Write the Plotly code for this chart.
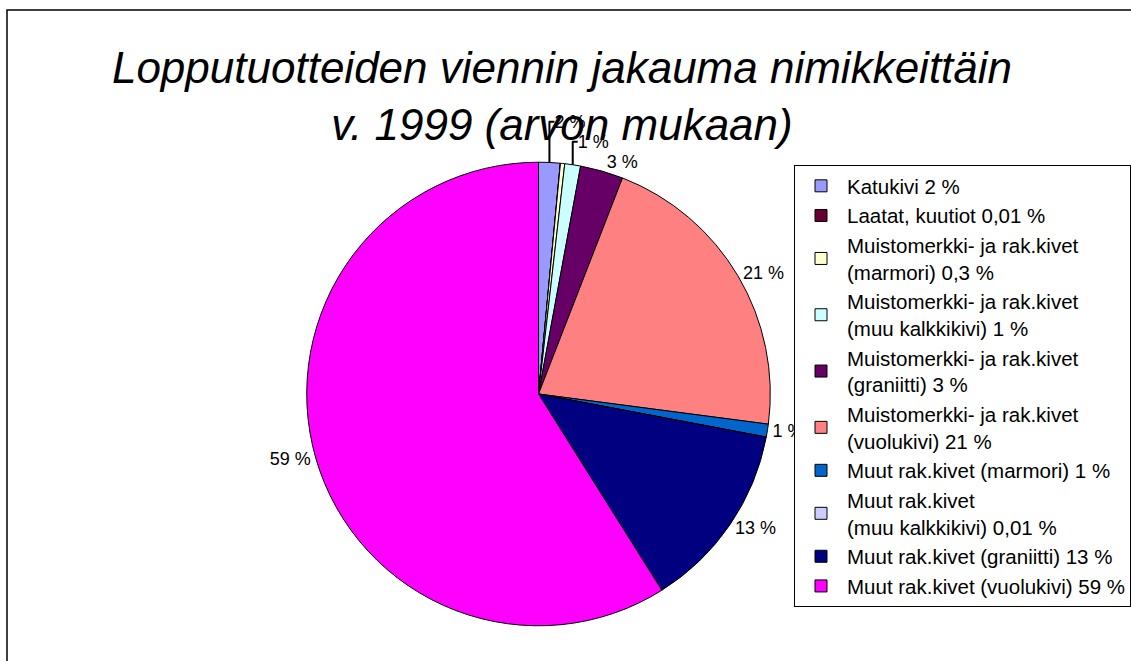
import plotly.graph_objects as go

# Export shares by product (value based), 1999
categories = [
    "Katukivi 2 %",
    "Laatat, kuutiot 0,01 %",
    "Muistomerkki- ja rak.kivet<br>(marmori) 0,3 %",
    "Muistomerkki- ja rak.kivet<br>(muu kalkkikivi) 1 %",
    "Muistomerkki- ja rak.kivet<br>(graniitti) 3 %",
    "Muistomerkki- ja rak.kivet<br>(vuolukivi) 21 %",
    "Muut rak.kivet (marmori) 1 %",
    "Muut rak.kivet<br>(muu kalkkikivi) 0,01 %",
    "Muut rak.kivet (graniitti) 13 %",
    "Muut rak.kivet (vuolukivi) 59 %",
]
shares = [1.5, 0.01, 0.3, 1.1, 3.0, 21.2, 0.9, 0.01, 13.1, 59.0]
slice_labels = ["2 %", "", "", "1 %", "3 %", "21 %", "1 %", "", "13 %", "59 %"]
colors = ["#9999FF", "#660033", "#FFFFCC", "#CCFFFF", "#660066",
          "#FF8080", "#0066CC", "#CCCCFF", "#000080", "#FF00FF"]

W, H = 1131, 661
cx, cy, r = 539, 394, 232

fig = go.Figure(go.Pie(
    labels=categories,
    values=shares,
    text=slice_labels,
    texttemplate="%{text}",
    textposition="outside",
    textfont=dict(family="Liberation Sans, Arial", size=18, color="#000000"),
    marker=dict(colors=colors, line=dict(color="#000000", width=1)),
    sort=False,
    direction="clockwise",
    rotation=0,
    hole=0,
    domain=dict(x=[(cx - r) / W, (cx + r) / W],
                y=[1 - (cy + r) / H, 1 - (cy - r) / H]),
))

fig.update_layout(
    width=W, height=H,
    margin=dict(l=0, r=0, t=0, b=0),
    paper_bgcolor="white",
    plot_bgcolor="white",
    font=dict(family="Liberation Sans, Arial", color="#000000"),
    title=dict(
        text="<i>Lopputuotteiden viennin jakauma nimikkeittäin<br>v. 1999 (arvon mukaan)</i>",
        x=562 / W, xanchor="center",
        y=1 - 83 / H, yanchor="top",
        font=dict(family="Liberation Sans, Arial", size=44, color="#000000"),
    ),
    legend=dict(
        x=795 / W, xanchor="left",
        y=1 - 165 / H, yanchor="top",
        bordercolor="#000000", borderwidth=1,
        bgcolor="white",
        font=dict(size=20.5, family="Liberation Sans, Arial", color="#000000"),
        traceorder="normal",
        itemwidth=42,
    ),
    showlegend=True,
    shapes=[dict(type="rect", xref="paper", yref="paper",
                 x0=7 / W, x1=1.02, y0=-0.02, y1=1 - 10 / H,
                 line=dict(color="#000000", width=1.5))],
)

# drop the default page margin so figure pixels line up with the window
fig.write_html("out.html", config={"displayModeBar": False},
               post_script="document.body.style.margin='0';")
